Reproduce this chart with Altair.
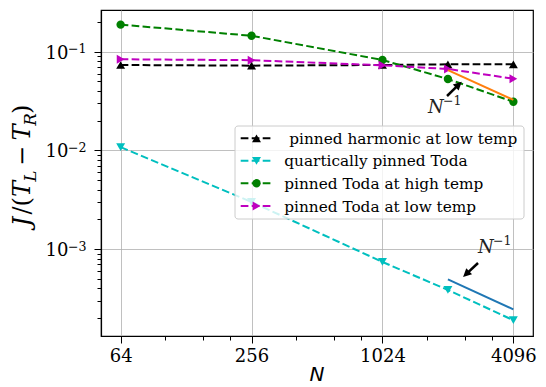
import altair as alt
import pandas as pd
import numpy as np

# ---------------- data ----------------
N = [64, 256, 1024, 2048, 4096]
harmonic_low = [0.0733, 0.0722, 0.0733, 0.0745, 0.0745]
quartic_toda = [0.0108, 0.0030, 0.00074, 0.000385, 0.00019]
toda_high = [0.188, 0.145, 0.0824, 0.0528, 0.0311]
toda_low = [0.0838, 0.082, 0.0728, 0.0668, 0.0533]

fit_N = [2048, 4096]
fit_high = [0.065, 0.0325]       # orange N^-1 guide
fit_quartic = [0.000493, 0.000245]  # blue N^-1 guide

series_labels = [" pinned harmonic at low temp", "quartically pinned Toda",
                 "pinned Toda at high temp", "pinned Toda at low temp"]
series_values = [harmonic_low, quartic_toda, toda_high, toda_low]
series_colors = ["#000000", "#00bfbf", "#008000", "#bf00bf"]
series_shapes = ["triangle-up", "triangle-down", "circle", "triangle-right"]

x_major = [64, 256, 1024, 4096]
x_minor = [102.4, 153.6, 204.8, 409.6, 614.4, 819.2, 1638.4, 2457.6, 3276.8]
y_major = [0.001, 0.01, 0.1]
y_major_exp = ["\u22123", "\u22122", "\u22121"]
y_minor = [2e-4, 3e-4, 4e-4, 5e-4, 6e-4, 7e-4, 8e-4, 9e-4,
           2e-3, 3e-3, 4e-3, 5e-3, 6e-3, 7e-3, 8e-3, 9e-3,
           2e-2, 3e-2, 4e-2, 5e-2, 6e-2, 7e-2, 8e-2, 9e-2, 0.2]

# annotations (data coordinates)
anno_text_N = [1659, 2817]
anno_text_J = [0.0239, 0.000911]
arrow_tail_N = [2029, 2817]
arrow_tail_J = [0.03556, 0.0007216]
arrow_tip_N = [2371, 2404]
arrow_tip_J = [0.04966, 0.0005205]

# ---------------- layout ----------------
W, H = 432, 326
XD = [2 ** 5.7, 2 ** 12.3]
YD = [1.315e-4, 0.2645]
xs = alt.Scale(type="log", base=2, domain=XD, nice=False)
ys = alt.Scale(type="log", base=10, domain=YD, nice=False)

SERIF = "DejaVu Serif"
DASH = [7.7, 3.3]


def px(n):
    return (np.log2(n) - np.log2(XD[0])) / (np.log2(XD[1]) - np.log2(XD[0])) * W


def py(v):
    return (np.log10(YD[1]) - np.log10(v)) / (np.log10(YD[1]) - np.log10(YD[0])) * H


layers = []

# axes (major with grid, minor ticks only)
axis_df = pd.DataFrame({"N": N, "J": toda_high})
layers.append(
    alt.Chart(axis_df).mark_point(opacity=0).encode(
        x=alt.X("N:Q", scale=xs, axis=alt.Axis(
            orient="bottom", values=x_major, format="d", grid=True, tickSize=7,
            labelPadding=4, labelOverlap=False, labelFlush=False, title=None)),
        y=alt.Y("J:Q", scale=ys, axis=alt.Axis(
            orient="left", values=y_major, grid=True, tickSize=7, labelPadding=26,
            labelOverlap=False, labelFlush=False, title=None,
            labelExpr="'10'", labelBaseline="middle", labelOffset=1.5)),
    )
)
layers.append(
    alt.Chart(axis_df).mark_point(opacity=0).encode(
        x=alt.X("N:Q", scale=xs, axis=alt.Axis(
            orient="bottom", values=x_minor, grid=False, labels=False, tickSize=4,
            domain=False, title=None)),
        y=alt.Y("J:Q", scale=ys, axis=alt.Axis(
            orient="left", values=y_minor, grid=False, labels=False, tickSize=4,
            domain=False, title=None)),
    )
)

# exponents of the y tick labels (superscripts)
exp_df = pd.DataFrame({"J": y_major, "e": y_major_exp})
layers.append(alt.Chart(exp_df).mark_text(font=SERIF, fontSize=12.6, align="left",
                                          baseline="alphabetic", dy=1.5, color="black").encode(
    x=alt.value(-33), y=alt.Y("J:Q", scale=ys, axis=None), text="e:N"))

# data series
for vals, col, shp in zip(series_values, series_colors, series_shapes):
    df = pd.DataFrame({"N": N, "J": vals})
    enc = dict(x=alt.X("N:Q", scale=xs, axis=None), y=alt.Y("J:Q", scale=ys, axis=None))
    layers.append(alt.Chart(df).mark_line(color=col, strokeWidth=2, strokeDash=DASH).encode(**enc))
    layers.append(alt.Chart(df).mark_point(color=col, filled=True, opacity=1, shape=shp,
                                           size=70 if shp == "circle" else 80).encode(**enc))

for vals, col in [(fit_high, "#ff7f0e"), (fit_quartic, "#1f77b4")]:
    df = pd.DataFrame({"N": fit_N, "J": vals})
    layers.append(alt.Chart(df).mark_line(color=col, strokeWidth=2).encode(
        x=alt.X("N:Q", scale=xs, axis=None), y=alt.Y("J:Q", scale=ys, axis=None)))

# annotations: arrows and N^-1 text
HEAD = "M0,0L-0.8,1.6L0.8,1.6Z"
for i in range(2):
    tx, ty = px(arrow_tail_N[i]), py(arrow_tail_J[i])
    hx, hy = px(arrow_tip_N[i]), py(arrow_tip_J[i])
    ang = float(np.degrees(np.arctan2(hx - tx, -(hy - ty)))) % 360
    length = np.hypot(hx - tx, hy - ty)
    f = 1 - 5.0 / length
    endN = 2 ** (np.log2(arrow_tail_N[i]) + f * (np.log2(arrow_tip_N[i]) - np.log2(arrow_tail_N[i])))
    endJ = 10 ** (np.log10(arrow_tail_J[i]) + f * (np.log10(arrow_tip_J[i]) - np.log10(arrow_tail_J[i])))
    sdf = pd.DataFrame({"N": [arrow_tail_N[i]], "J": [arrow_tail_J[i]], "N2": [endN], "J2": [endJ]})
    layers.append(alt.Chart(sdf).mark_rule(color="black", strokeWidth=2.5).encode(
        x=alt.X("N:Q", scale=xs, axis=None), y=alt.Y("J:Q", scale=ys, axis=None),
        x2="N2:Q", y2="J2:Q"))
    hdf = pd.DataFrame({"N": [arrow_tip_N[i]], "J": [arrow_tip_J[i]]})
    layers.append(alt.Chart(hdf).mark_point(shape=HEAD, filled=True, color="black", opacity=1,
                                            size=110, angle=ang).encode(
        x=alt.X("N:Q", scale=xs, axis=None), y=alt.Y("J:Q", scale=ys, axis=None)))
    tdf = pd.DataFrame({"N": [anno_text_N[i]], "J": [anno_text_J[i]]})
    layers.append(alt.Chart(tdf).mark_text(text="N", font=SERIF, fontStyle="italic", fontSize=18,
                                           align="left", baseline="alphabetic", color="#222222").encode(
        x=alt.X("N:Q", scale=xs, axis=None), y=alt.Y("J:Q", scale=ys, axis=None)))
    layers.append(alt.Chart(tdf).mark_text(text="\u22121", font=SERIF, fontSize=12.6,
                                           align="left", baseline="alphabetic", dx=15, dy=-8,
                                           color="#222222").encode(
        x=alt.X("N:Q", scale=xs, axis=None), y=alt.Y("J:Q", scale=ys, axis=None)))

# legend (drawn by hand: dashed line + marker + label)
one = pd.DataFrame({"a": [0]})
layers.append(alt.Chart(one).mark_rect(fill="white", fillOpacity=0.8, stroke="#cccccc",
                                       strokeWidth=1, cornerRadius=3).encode(
    x=alt.value(134), x2=alt.value(423), y=alt.value(116), y2=alt.value(209)))
leg_y = [128.3, 150.8, 173.3, 196.0]
for lab, col, shp, yy in zip(series_labels, series_colors, series_shapes, leg_y):
    layers.append(alt.Chart(one).mark_rule(color=col, strokeWidth=2, strokeDash=DASH).encode(
        x=alt.value(139.7), x2=alt.value(170.7), y=alt.value(yy)))
    layers.append(alt.Chart(one).mark_point(color=col, filled=True, opacity=1, shape=shp,
                                            size=70 if shp == "circle" else 80).encode(
        x=alt.value(155.5), y=alt.value(yy)))
    lead = len(lab) - len(lab.lstrip(" "))
    layers.append(alt.Chart(one).mark_text(text=lab.lstrip(" "), dx=5.0 * lead,
                                           font=SERIF, fontSize=15.3, align="left",
                                           baseline="middle", color="black").encode(
        x=alt.value(183.3), y=alt.value(yy + 0.5)))

# axis titles
layers.append(alt.Chart(one).mark_text(text="N", font="DejaVu Sans", fontStyle="italic",
                                       fontSize=20, align="center", baseline="alphabetic",
                                       color="black").encode(
    x=alt.value(216), y=alt.value(371)))

YL_X, YL_Y = -71, 156
ylab_pieces = [
    ("J", 24, "italic", -60.6, 0),
    ("/(", 24, "normal", -48.6, 0),
    ("T", 24, "italic", -31.1, 0),
    ("L", 16.8, "italic", -15.8, 5.7),
    ("\u2212", 24, "normal", 0.0, 0),
    ("T", 24, "italic", 25.4, 0),
    ("R", 16.8, "italic", 40.2, 5.7),
    (")", 24, "normal", 52.0, 0),
]
for txt, fs, sty, dx, dy in ylab_pieces:
    layers.append(alt.Chart(one).mark_text(text=txt, font=SERIF, fontSize=fs, fontStyle=sty,
                                           angle=270, align="left", baseline="alphabetic",
                                           dx=dx, dy=dy, color="black").encode(
        x=alt.value(YL_X), y=alt.value(YL_Y)))

chart = alt.layer(*layers).properties(
    width=W, height=H,
    autosize=alt.AutoSizeParams(type="none"),
    padding={"left": 101, "top": 10, "right": 13, "bottom": 51},
    background="white",
).resolve_axis(x="independent", y="independent").configure_view(
    stroke="black", strokeWidth=1.2
).configure_axis(
    domainColor="black", domainWidth=1.2, tickColor="black", tickWidth=1,
    labelColor="black", labelFont=SERIF, labelFontSize=18,
    gridColor="#b0b0b0", gridWidth=0.8, gridOpacity=1,
)

chart.save("out.html", embed_options={"renderer": "svg", "actions": False})
